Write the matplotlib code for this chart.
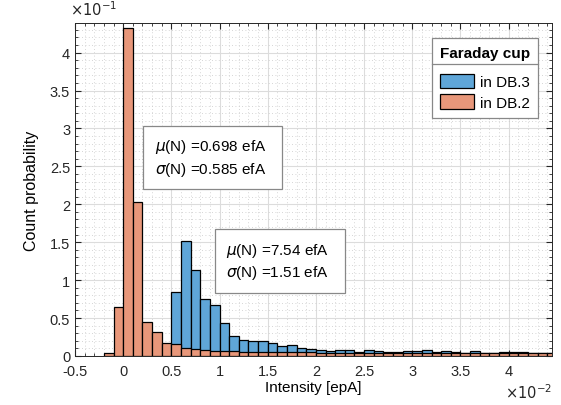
import numpy as np
import matplotlib.pyplot as plt
from matplotlib.lines import Line2D
from matplotlib.ticker import MultipleLocator, FuncFormatter

plt.rcParams['font.family'] = ['Liberation Sans', 'DejaVu Sans']

# x in units of 1e-2 epA, y in units of 1e-1 (count probability)
bin_width = 0.1
db3_start = 0.5
db3_heights = [0.84, 1.51, 1.135, 0.745, 0.675, 0.437, 0.26, 0.21, 0.195, 0.20,
               0.167, 0.13, 0.145, 0.106, 0.097, 0.084, 0.062, 0.084, 0.08, 0.057,
               0.075, 0.062, 0.05, 0.053, 0.062, 0.062, 0.08, 0.048, 0.07, 0.053,
               0.044, 0.066, 0.044, 0.044, 0.048, 0.048, 0.057, 0.04, 0.044, 0.044]
db2_start = -0.2
db2_heights = [0.044, 0.65, 4.33, 2.03, 0.45, 0.31, 0.177, 0.16, 0.11, 0.093,
               0.078, 0.072, 0.066, 0.062, 0.058, 0.056, 0.058, 0.052, 0.048, 0.055,
               0.05, 0.048, 0.046, 0.044, 0.046, 0.043, 0.045, 0.042, 0.044, 0.042,
               0.040, 0.042, 0.040, 0.041, 0.039, 0.040, 0.038, 0.039, 0.037, 0.038,
               0.036, 0.037, 0.036, 0.035, 0.036, 0.035, 0.034]
labels = ['in DB.3', 'in DB.2']
stats_db2 = ('0.698', '0.585')
stats_db3 = ('7.54', '1.51')

blue = '#5FA6D8'
orange = '#E8977A'

fig = plt.figure(figsize=(5.61, 4.06), dpi=100)
ax = fig.add_axes([0.1337, 0.1207, 0.8503, 0.8202])

x3 = db3_start + bin_width * np.arange(len(db3_heights))
x2 = db2_start + bin_width * np.arange(len(db2_heights))
ax.bar(x3, db3_heights, width=bin_width, align='edge', color=blue,
       edgecolor='black', linewidth=0.9, label=labels[0], zorder=2)
ax.bar(x2, db2_heights, width=bin_width, align='edge', color=orange,
       edgecolor='black', linewidth=0.9, label=labels[1], zorder=3)

ax.set_xlim(-0.5, 4.45)
ax.set_ylim(0, 4.39)
ax.xaxis.set_minor_locator(MultipleLocator(0.1))
ax.yaxis.set_major_locator(MultipleLocator(0.5))
ax.yaxis.set_minor_locator(MultipleLocator(0.1))
fmt = FuncFormatter(lambda v, p: '%g' % round(v, 3))
ax.xaxis.set_major_formatter(fmt)
ax.yaxis.set_major_formatter(fmt)
ax.set_xticks([-0.5, 0, 0.5, 1, 1.5, 2, 2.5, 3, 3.5, 4])

ax.grid(True, which='major', color='#dcdcdc', linewidth=0.8, zorder=0)
ax.grid(True, which='minor', color='#c8c8c8', linewidth=0.6, linestyle=(0, (1, 3)), zorder=0)
ax.set_axisbelow(True)
ax.tick_params(which='both', direction='in', top=True, right=True, colors='#262626',
               labelsize=10.5)
ax.tick_params(axis='x', which='major', pad=6)
ax.tick_params(which='major', length=4)
ax.tick_params(which='minor', length=2)
for s in ax.spines.values():
    s.set_color('#262626')
    s.set_linewidth(0.7)

ax.set_xlabel('Intensity [epA]', fontsize=11, labelpad=1)
ax.set_ylabel('Count probability', fontsize=11.5, labelpad=8)
ax.text(-0.01, 1.015, r'$\times10^{-1}$', transform=ax.transAxes, ha='left', va='bottom',
        fontsize=10.5, color='#262626')
ax.text(1.0, -0.126, r'$\times10^{-2}$', transform=ax.transAxes, ha='right', va='baseline',
        fontsize=10.5, color='#262626')

box = dict(boxstyle='square,pad=0.75', facecolor='white', edgecolor='#888888', linewidth=0.9)
ax.text(0.325, 2.62, '$\\mu$(N) =%s efA  \n$\\sigma$(N) =%s efA  ' % stats_db2,
        fontsize=11, va='center', ha='left', bbox=box, zorder=5, linespacing=1.35)
ax.text(1.07, 1.25, '$\\mu$(N) =%s efA  \n$\\sigma$(N) =%s efA  ' % stats_db3,
        fontsize=11, va='center', ha='left', bbox=box, zorder=5, linespacing=1.35)

leg = ax.legend(loc='upper right', bbox_to_anchor=(0.970, 0.955), title='Faraday cup',
                fontsize=11, fancybox=False, framealpha=1, edgecolor='#888888',
                handlelength=2.2, handleheight=1.1, borderpad=0.5, labelspacing=0.35,
                handletextpad=0.4, borderaxespad=0)
leg.get_title().set_fontweight('bold')
leg.get_title().set_fontsize(11)
leg.get_frame().set_linewidth(0.9)
leg._legend_box.sep = 10

# separator line between legend title and entries
fig.canvas.draw()
inv = fig.transFigure.inverted()
lb = leg.get_window_extent()
tb = leg.get_title().get_window_extent()
y_sep = tb.y0 - 4
(x0, ys), (x1, _) = inv.transform([(lb.x0, y_sep), (lb.x1, y_sep)])
fig.add_artist(Line2D([x0, x1], [ys, ys], color='#888888', linewidth=0.9, zorder=10))

fig.savefig('out.png', dpi=100)
